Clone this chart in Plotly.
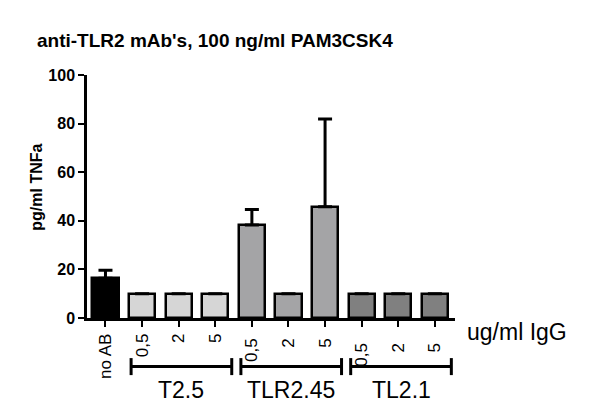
import plotly.graph_objects as go

# data
labels = ["no AB", "0,5", "2", "5", "0,5 ", "2 ", "5 ", "0,5  ", "2  ", "5  "]
values = [16.4, 10, 10, 10, 38.3, 10, 45.8, 10, 10, 10]
errors = [3.3, 0, 0, 0, 6.4, 0, 36.1, 0, 0, 0]
colors = ["#000000"] + ["#d6d6d6"] * 3 + ["#a4a4a6"] * 3 + ["#808080"] * 3
groups = ["T2.5", "TLR2.45", "TL2.1"]
group_idx = [(1, 3), (4, 6), (7, 9)]

fig = go.Figure()
fig.add_bar(
    x=list(range(len(values))), y=values,
    width=0.72,
    marker=dict(color=colors, line=dict(color="black", width=2.5)),
    error_y=dict(type="data", symmetric=False, array=errors,
                 arrayminus=[0] * len(errors),
                 color="black", thickness=3, width=7),
)

shapes = []
annotations = []
for name, (a, b) in zip(groups, group_idx):
    x0, x1 = a - 0.3, b + 0.45
    shapes.append(dict(type="line", xref="x", yref="paper", x0=x0, x1=x1,
                       y0=-0.2, y1=-0.2, line=dict(color="black", width=3)))
    for xx in (x0, x1):
        shapes.append(dict(type="line", xref="x", yref="paper", x0=xx, x1=xx,
                           y0=-0.165, y1=-0.235, line=dict(color="black", width=3)))
    annotations.append(dict(x=(x0 + x1) / 2, y=-0.296, xref="x", yref="paper",
                            text=name, showarrow=False, yanchor="middle",
                            font=dict(size=23, color="black")))

annotations.append(dict(x=1.027, y=-0.058, xref="paper", yref="paper",
                        text="ug/ml IgG", showarrow=False, xanchor="left",
                        yanchor="middle", font=dict(size=23, color="black")))
annotations.append(dict(x=-0.136, y=0.54, xref="paper", yref="paper",
                        text="<b>pg/ml TNFa</b>", showarrow=False, textangle=-90,
                        xanchor="center", yanchor="middle",
                        font=dict(size=16, color="black")))

# page body has an 8px margin, so the figure is offset by 8px
fig.update_layout(
    width=600, height=420,
    margin=dict(l=79, r=153, t=67, b=110),
    paper_bgcolor="white", plot_bgcolor="white",
    font=dict(family="Liberation Sans, Arial, sans-serif", color="black"),
    title=dict(text="<b>anti-TLR2 mAb's, 100 ng/ml PAM3CSK4</b>",
               x=29 / 600, xanchor="left", y=1 - 32 / 420, yanchor="middle",
               font=dict(size=19)),
    showlegend=False,
    bargap=0,
    shapes=shapes,
    annotations=annotations,
)
fig.update_xaxes(
    range=[-0.505, 9.55],
    tickmode="array", tickvals=list(range(len(values))), ticktext=labels,
    tickangle=-90, ticks="outside", ticklen=6, tickwidth=2, tickcolor="black",
    showline=True, linecolor="black", linewidth=2.5, showgrid=False,
    zeroline=False, tickfont=dict(size=17), automargin=False,
)
fig.update_yaxes(
    range=[0, 100], tickvals=[0, 20, 40, 60, 80, 100],
    ticks="outside", ticklen=6, tickwidth=2, tickcolor="black",
    showline=True, linecolor="black", linewidth=2.5, showgrid=False,
    zeroline=False, automargin=False,
    tickfont=dict(size=16, family="Liberation Sans, Arial", weight="bold"),
)

fig.write_html("out.html")
